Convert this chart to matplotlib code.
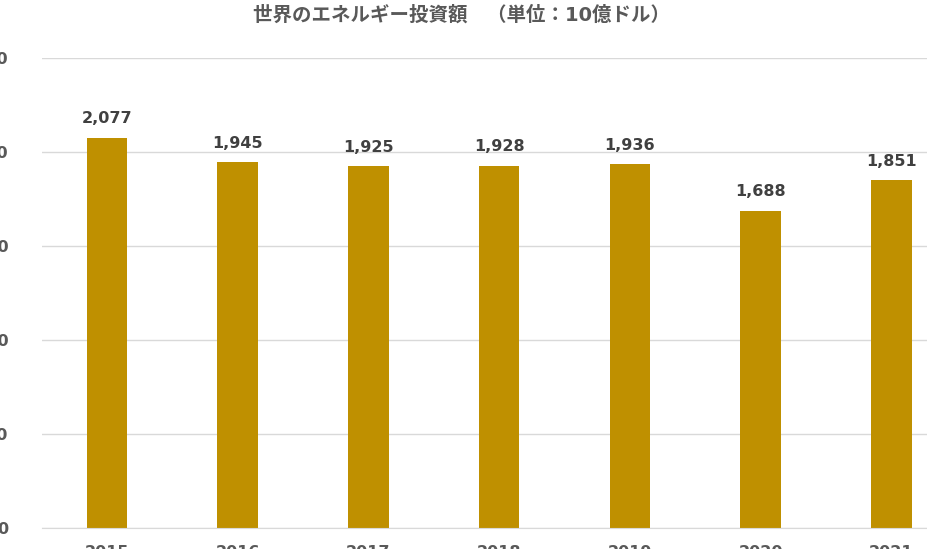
import matplotlib
matplotlib.use("Agg")
import matplotlib.pyplot as plt

years = ["2015", "2016", "2017", "2018", "2019", "2020", "2021"]
invest = [2077, 1945, 1925, 1928, 1936, 1688, 1851]
yticks = [0, 500, 1000, 1500, 2000, 2500]
title = "世界のエネルギー投資額　（単位：10億ドル）"

plt.rcParams["font.family"] = ["DejaVu Sans", "Noto Sans CJK JP"]
W, H = 928, 549
fig = plt.figure(figsize=(W / 100, H / 100), dpi=100)
left, right, bottom, top = 41.7, 956.6, 528, 58
ax = fig.add_axes([left / W, (H - bottom) / H, (right - left) / W, (bottom - top) / H])

x = range(len(years))
ax.bar(x, invest, width=0.31, color="#BF9000", zorder=2)
for xi, v in zip(x, invest):
    ax.text(xi, v + 60, f"{v:,}", ha="center", va="bottom", fontsize=11.5,
            fontweight="bold", color="#404040")

ax.set_xlim(-0.5, len(years) - 0.5)
ax.set_ylim(0, 2500)
ax.set_yticks(yticks)
ax.set_yticklabels([f"{t:,}" for t in yticks], fontsize=11.5, fontweight="bold", color="#595959")
ax.set_xticks(list(x))
ax.set_xticklabels(years, fontsize=11.5, fontweight="bold", color="#595959")
ax.tick_params(axis="y", length=0, pad=24)
ax.tick_params(axis="x", length=0, pad=12)
ax.grid(axis="y", color="#D9D9D9", lw=1, zorder=0)
for s in ["top", "right", "left"]:
    ax.spines[s].set_visible(False)
ax.spines["bottom"].set_color("#D9D9D9")

fig.text(462 / W, 1 - 15 / H, title, ha="center", va="center", fontsize=14,
         fontweight="bold", color="#595959")
fig.savefig("out.png", dpi=100)
